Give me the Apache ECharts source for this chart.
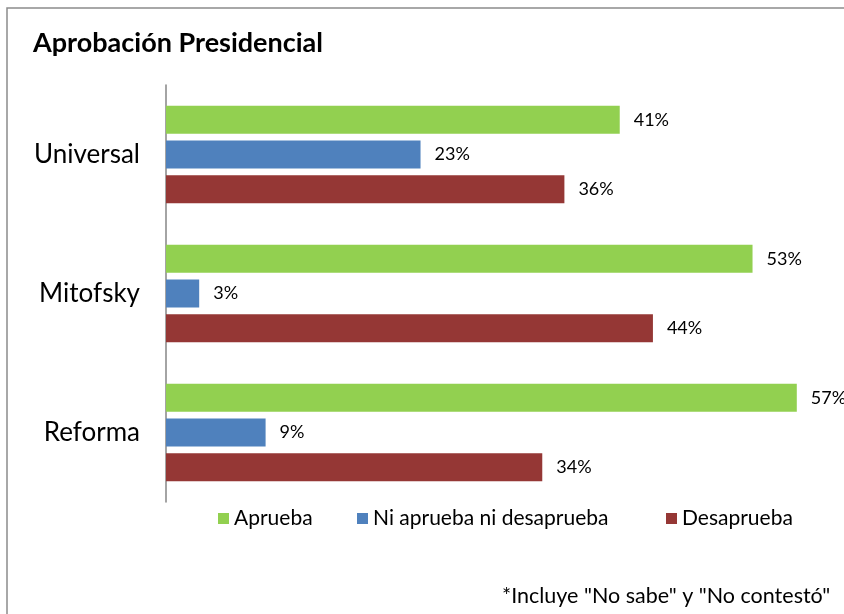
<!DOCTYPE html>
<html>
<head>
<meta charset="utf-8">
<script src="https://cdn.jsdelivr.net/npm/echarts@6/dist/echarts.min.js"></script>
<style>html,body{margin:0;padding:0;background:#fff;}#c{width:844px;height:614px;}</style>
</head>
<body>
<div id="c"></div>
<script>
const categories = ['Universal', 'Mitofsky', 'Reforma'];
const seriesNames = ['Aprueba', 'Ni aprueba ni desaprueba', 'Desaprueba'];
const aprueba = [41, 53, 57];
const niAprueba = [23, 3, 9];
const desaprueba = [36, 44, 34];
const colors = ['#92D050', '#4F81BD', '#953735'];
const FONT = 'Lato';

const chart = echarts.init(document.getElementById('c'), null, {renderer: 'canvas'});
const values = [aprueba, niAprueba, desaprueba];
const legendLefts = [218, 357, 666];

chart.setOption({
  animation: false,
  textStyle: {fontFamily: FONT},
  title: {
    text: 'Aprobación Presidencial',
    left: 33, top: 30, padding: 0,
    textStyle: {fontFamily: FONT, fontWeight: 'bold', fontSize: 27, color: '#000'}
  },
  legend: seriesNames.map((n, i) => ({
    data: [n],
    left: legendLefts[i], top: 508, padding: 0,
    itemWidth: 11, itemHeight: 11, itemGap: 5,
    icon: 'rect',
    textStyle: {fontFamily: FONT, fontSize: 21, color: '#000'}
  })),
  grid: {left: 166, top: 85, width: 664, height: 417, containLabel: false},
  xAxis: {
    type: 'value', min: 0, max: 60, show: false
  },
  yAxis: {
    type: 'category', data: categories, inverse: true,
    axisLine: {show: true, lineStyle: {color: '#868686', width: 1.5}},
    axisTick: {show: false},
    axisLabel: {fontFamily: FONT, fontSize: 26, color: '#000', margin: 26}
  },
  series: seriesNames.map((n, i) => ({
    name: n, type: 'bar', data: values[i],
    barCategoryGap: '30%', barGap: '25%',
    itemStyle: {color: colors[i]},
    label: {
      show: true, position: 'right', distance: 14,
      formatter: '{c}%', fontFamily: FONT, fontSize: 18, color: '#000'
    }
  })),
  graphic: [
    {type: 'rect', shape: {x: 7, y: 8, width: 900, height: 700},
     style: {fill: 'none', stroke: '#8c8c8c', lineWidth: 1.5}, silent: true, z: -1},
    {type: 'text', left: 502, top: 585,
     style: {text: '*Incluye "No sabe" y "No contestó"', font: '21.5px Lato', fill: '#000'}}
  ]
});
</script>
</body>
</html>
